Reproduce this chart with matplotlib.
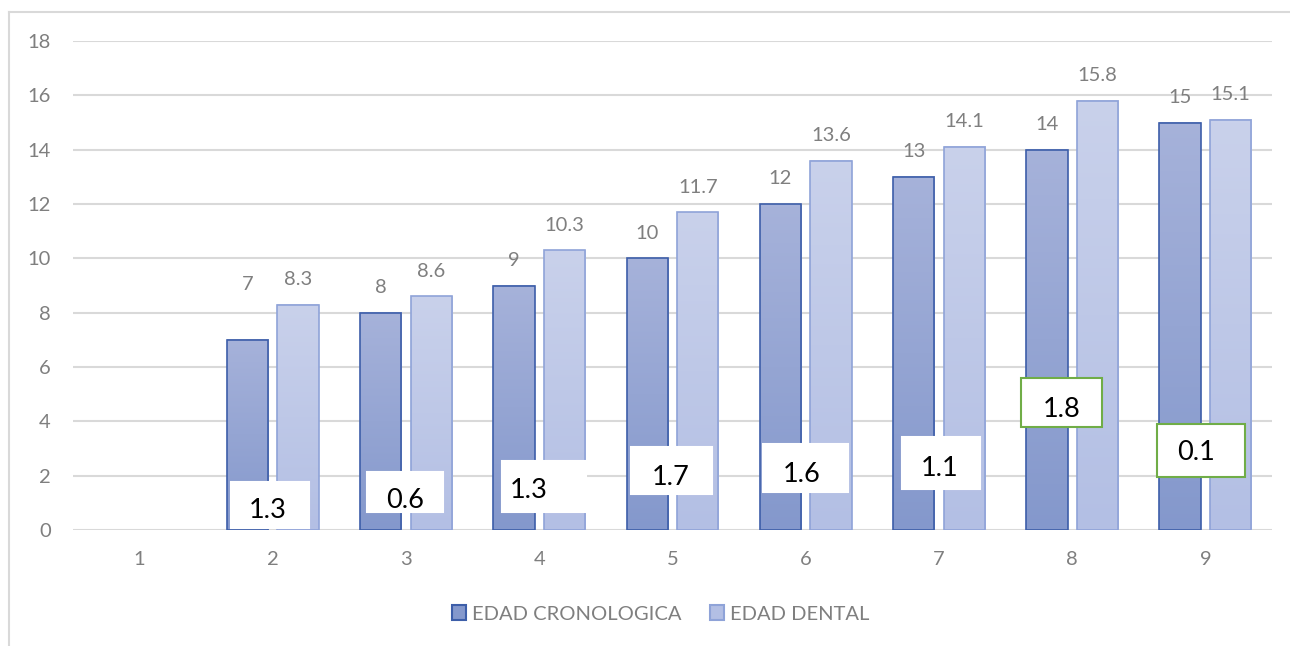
import numpy as np
import matplotlib.pyplot as plt
from matplotlib.patches import Rectangle, Patch
from matplotlib.lines import Line2D

# edad cronologica vs edad dental por grupo
grupos = ['1', '2', '3', '4', '5', '6', '7', '8', '9']
edad_cronologica = [None, 7, 8, 9, 10, 12, 13, 14, 15]
edad_dental = [None, 8.3, 8.6, 10.3, 11.7, 13.6, 14.1, 15.8, 15.1]
series = ['EDAD CRONOLOGICA', 'EDAD DENTAL']

# cajas con la diferencia (x0, x1, y0, y1) y posicion del texto
cajas = [(1.683, 2.268, 0.074, 1.767), (2.704, 3.274, 0.662, 2.135),
         (3.717, 4.347, 0.662, 2.540), (4.692, 5.300, 1.325, 3.055),
         (5.683, 6.321, 1.399, 3.165), (6.719, 7.311, 1.509, 3.423),
         (7.619, 8.227, 3.791, 5.594), (8.640, 9.300, 1.951, 3.901)]
pos_texto = [(1.961, 0.70), (2.989, 1.10), (3.919, 1.47), (4.985, 1.95),
             (5.968, 2.06), (7.004, 2.28), (7.919, 4.45), (8.932, 2.87)]
borde_caja = ['white'] * 6 + ['#70ad47', '#70ad47']

plt.rcParams['font.family'] = ['Lato', 'DejaVu Sans']
gris = '#7f7f7f'

fig = plt.figure(figsize=(12.9, 6.46), dpi=100)
ax = fig.add_axes([73 / 1290, 116 / 646, 1199 / 1290, 489 / 646])

x = np.arange(1, len(grupos) + 1)
w = 0.31
off = 0.19
estilos = [
    ('#a6b2da', '#8498cc', '#3d5ea9'),
    ('#c9d1eb', '#b3bfe4', '#8fa3d8'),
]

for vals, dx, (c_top, c_bot, c_edge) in zip([edad_cronologica, edad_dental], [-off, off], estilos):
    for xi, v in zip(x, vals):
        if v is None:
            continue
        grad = np.linspace(0, 1, 100).reshape(-1, 1)
        top = np.array(plt.matplotlib.colors.to_rgb(c_top))
        bot = np.array(plt.matplotlib.colors.to_rgb(c_bot))
        img = top + (bot - top) * grad[:, :, None]
        ax.imshow(img, extent=(xi + dx - w / 2, xi + dx + w / 2, 0, v),
                  aspect='auto', origin='upper', zorder=2)
        ax.bar(xi + dx, v, w, facecolor='none', edgecolor=c_edge, linewidth=1.2, zorder=3)
        dy = 55 if v == 7 else 25
        ax.annotate(f'{v:g}', (xi + dx, v), xytext=(0, dy), textcoords='offset pixels',
                    ha='center', va='center', fontsize=14.5, color=gris, zorder=4)

# diferencia entre edad dental y cronologica
dif = [round(d - c, 1) for c, d in zip(edad_cronologica[1:], edad_dental[1:])]
for d, (x0, x1, y0, y1), (tx, ty), ec in zip(dif, cajas, pos_texto, borde_caja):
    ax.add_patch(Rectangle((x0, y0), x1 - x0, y1 - y0, facecolor='white',
                           edgecolor=ec, linewidth=1.5, zorder=5))
    ax.text(tx, ty, f'{d:g}', ha='center', va='center', fontsize=19.5, color='black', zorder=6)

ax.set_xlim(0.5, len(grupos) + 0.5)
ax.set_ylim(0, 18)
ax.set_xticks(x)
ax.set_xticklabels(grupos)
ax.set_yticks(np.arange(0, 19, 2))
ax.tick_params(axis='both', length=0, labelsize=14.5, labelcolor=gris)
ax.tick_params(axis='y', pad=16)
ax.tick_params(axis='x', pad=15)
ax.grid(axis='y', color='#d9d9d9', linewidth=1.5, zorder=0)
ax.set_axisbelow(True)
for s in ax.spines.values():
    s.set_visible(False)

handles = [Patch(facecolor=estilos[0][1], edgecolor=estilos[0][2], linewidth=1.5),
           Patch(facecolor=estilos[1][1], edgecolor=estilos[1][2], linewidth=1.5)]
leg = fig.legend(handles, series, loc='center', bbox_to_anchor=(0.512, 1 - 614 / 646),
                 ncol=2, frameon=False, fontsize=14.5, handlelength=0.7, handleheight=0.7,
                 handletextpad=0.3, columnspacing=1.4)
for t in leg.get_texts():
    t.set_color(gris)

# borde del area del grafico
fig.add_artist(Line2D([9 / 1290, 1], [1 - 12 / 646, 1 - 12 / 646], color='#d9d9d9', linewidth=1.5))
fig.add_artist(Line2D([9 / 1290, 9 / 1290], [0, 1 - 12 / 646], color='#d9d9d9', linewidth=1.5))

fig.savefig('out.png', dpi=100)
